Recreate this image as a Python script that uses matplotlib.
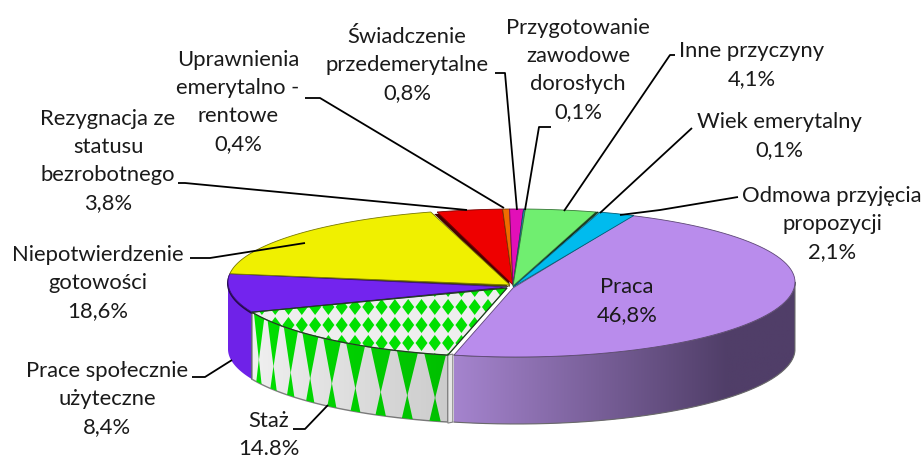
import numpy as np
import matplotlib
matplotlib.use('Agg')
import matplotlib.pyplot as plt
from matplotlib.patches import Polygon
from matplotlib.colors import to_rgb

plt.rcParams['font.family'] = ['Lato', 'DejaVu Sans']

#data, clockwise from the top right of the pie
names = ['Praca', 'Staż', 'Prace społecznie', 'Niepotwierdzenie', 'Rezygnacja',
         'Uprawnienia', 'Świadczenie', 'Przygotowanie', 'Inne', 'Wiek', 'Odmowa']
values = [46.8, 14.8, 8.4, 18.6, 3.8, 0.4, 0.8, 0.1, 4.1, 0.1, 2.1]
colors = ['#B98CEC', '#EEEEEE', '#7324EE', '#F0F000', '#EE0000', '#F06A00',
          '#E20FB8', '#1E9CC0', '#70EE70', '#1F5F2A', '#00BBEE']
rim_off = [(5, 0), (0, 0), (0, 0), (0, 0), (5, 0), (5, 0), (5, 0), (5, 0), (5, 0), (6, 0), (8, 0)]
apex = [(513, 288), (507, 288), (507, 287), (510, 285), (513, 285), (513, 285),
        (513, 285), (513, 286), (513, 286), (513, 287), (513, 287)]

labels = [('Praca\n46,8%', 627, 301),
          ('Staż\n14.8%', 269, 435),
          ('Prace społecznie\nużyteczne\n8,4%', 107, 399),
          ('Niepotwierdzenie\ngotowości\n18,6%', 98, 283),
          ('Rezygnacja ze\nstatusu\nbezrobotnego\n3,8%', 108, 161),
          ('Uprawnienia\nemerytalno -\nrentowe\n0,4%', 238, 102),
          ('Świadczenie\nprzedemerytalne\n0,8%', 407, 65),
          ('Przygotowanie\nzawodowe\ndorosłych\n0,1%', 578, 70),
          ('Inne przyczyny\n4,1%', 752, 65),
          ('Wiek emerytalny\n0,1%', 779, 136),
          ('Odmowa przyjęcia\npropozycji\n2,1%', 832, 224)]

leaders = [[(328, 405), (305, 429), (293, 429)],
           [(232, 360), (205, 377), (192, 377)],
           [(305, 243), (210, 258), (190, 258)],
           [(467, 210), (185, 183), (178, 183)],
           [(504, 208), (320, 98), (305, 98)],
           [(517, 210), (505, 73), (495, 73)],
           [(525, 210), (539, 127), (551, 127)],
           [(564, 211), (670, 55), (675, 55)],
           [(600, 213), (692, 128)],
           [(620, 215), (660, 210), (738, 197)]]

ECX, ECY = 511.5, 282
RX, RUP, RDN = 283.5, 73, 75
HEIGHT = 67
START = 65.5

fig = plt.figure(figsize=(9.24, 4.59), dpi=100)
ax = fig.add_axes([0, 0, 1, 1])
ax.set_xlim(0, 924)
ax.set_ylim(459, 0)
ax.axis('off')


def rim(deg, off=(0, 0), drop=0):
    #the shift fades out towards the right end of the pie
    t = np.radians(deg)
    s = np.sin(t)
    c = np.cos(t) * np.ones_like(s)
    ry = np.where(s >= 0, RUP, RDN)
    return np.column_stack([ECX + off[0] * (1 - c) + RX * c,
                            ECY + off[1] - ry * s + drop])


def side_pts(a0, a1, off):
    th = np.linspace(a0, a1, 80)
    return np.vstack([rim(th, off), rim(th[::-1], off, HEIGHT)])


#angles of every slice
ends = START - np.cumsum(values) * 3.6
starts = np.concatenate([[START], ends[:-1]])

#purple wall, only the part left of the Staz slice shows
a0 = starts[2]
ax.add_patch(Polygon(side_pts(-180, a0, rim_off[2]), fc='#6F22E8', ec='none', zorder=2))
p = rim(np.array([a0]), rim_off[2])[0]
ax.add_patch(Polygon([p + [-1, 0], p + [2, 1], p + [2, HEIGHT + 1], p + [-1, HEIGHT]],
                     fc='#2E1070', ec='none', zorder=2.5))

#Staz wall with stretched pattern
a0, a1 = starts[1], ends[1]
off = rim_off[1]
pts = side_pts(a0, a1, off)
poly = Polygon(pts, fc='#EFEFEF', ec='#808080', lw=1, zorder=3)
ax.add_patch(poly)
step = (a0 - a1) / 9
for k in range(9):
    c = a1 + step * (k + 0.55)
    top_l, top_c, top_r = rim(np.array([c - step / 2.6, c, c + step / 2.6]), off)
    tri = Polygon([top_l, top_r, top_c + [0, 0.66 * HEIGHT]], fc='#00E000', ec='none', zorder=3.1)
    ax.add_patch(tri)
    tri.set_clip_path(poly)
    bl, bc, br = rim(np.array([c - step / 5, c, c + step / 5]), off, HEIGHT)
    tri = Polygon([bl, br, bc - [0, 0.36 * HEIGHT]], fc='#00E000', ec='none', zorder=3.1)
    ax.add_patch(tri)
    tri.set_clip_path(poly)
g = np.zeros((1, 256, 4))
g[0, :, 3] = np.linspace(0, 0.15, 256)
im = ax.imshow(g, extent=(pts[:, 0].min(), pts[:, 0].max(), pts[:, 1].max(), pts[:, 1].min()),
               aspect='auto', zorder=3.2)
im.set_clip_path(poly)
p = rim(np.array([a0]), off)[0]
ax.add_patch(Polygon([p, p + [5, -1], p + [5, HEIGHT], p + [0, HEIGHT + 1]],
                     fc='#E6E6E6', ec='#808080', lw=0.8, zorder=3.3))

#Praca wall, light at the front and dark at the right
pts = side_pts(ends[0], 0, rim_off[0])
poly = Polygon(pts, fc='#9A78C4', ec='none', zorder=3)
ax.add_patch(poly)
ramp = np.clip(np.linspace(0, 1.25, 256), 0, 1)[None, :, None]
img = np.array(to_rgb('#A584CE'))[None, None, :] * (1 - ramp) + np.array(to_rgb('#503E68'))[None, None, :] * ramp
im = ax.imshow(img, extent=(pts[:, 0].min(), pts[:, 0].max(), pts[:, 1].max(), pts[:, 1].min()),
               aspect='auto', zorder=3.05)
im.set_clip_path(poly)
ax.plot(pts[:, 0], pts[:, 1], color='#6A6A6A', lw=0.8, zorder=3.1)

#top faces, dark inner wall first
shadow = {3: (-1, 2), 4: (-3, 2), 2: (-1, 1.5)}
tops = []
for i in range(len(values)):
    arc = rim(np.linspace(starts[i], ends[i], 80), rim_off[i])
    pts = np.vstack([apex[i], arc])
    tops.append(pts)
    if i in shadow:
        ax.add_patch(Polygon(pts + np.array(shadow[i]), fc=np.array(to_rgb(colors[i])) * 0.3,
                             ec='none', zorder=4))
    ax.add_patch(Polygon(pts, fc=colors[i], ec=np.array(to_rgb(colors[i])) * 0.5, lw=0.6, zorder=5))

#diamonds on the Staz top face
clip = Polygon(tops[1], fc='none', ec='none', zorder=5.1)
ax.add_patch(clip)
for row in range(5):
    for col in range(22):
        x = 222 + col * 13.3
        y = 289 + row * 18
        d = Polygon([(x - 6, y), (x, y - 8), (x + 6, y), (x, y + 8)], fc='#00E000', ec='none', zorder=5.1)
        ax.add_patch(d)
        d.set_clip_path(clip)
ax.add_patch(Polygon(tops[1], fc='none', ec='#1F3F1F', lw=0.9, zorder=5.2))

for line in leaders:
    xs, ys = zip(*line)
    ax.plot(xs, ys, color='black', lw=1.3, zorder=6, solid_capstyle='butt')

for txt, x, y in labels:
    ax.text(x, y, txt, ha='center', va='center', fontsize=15.8, color='#1A1A1A',
            linespacing=1.52, zorder=7)

ax.set_xlim(0, 924)
ax.set_ylim(459, 0)
fig.savefig('out.png', dpi=100)
